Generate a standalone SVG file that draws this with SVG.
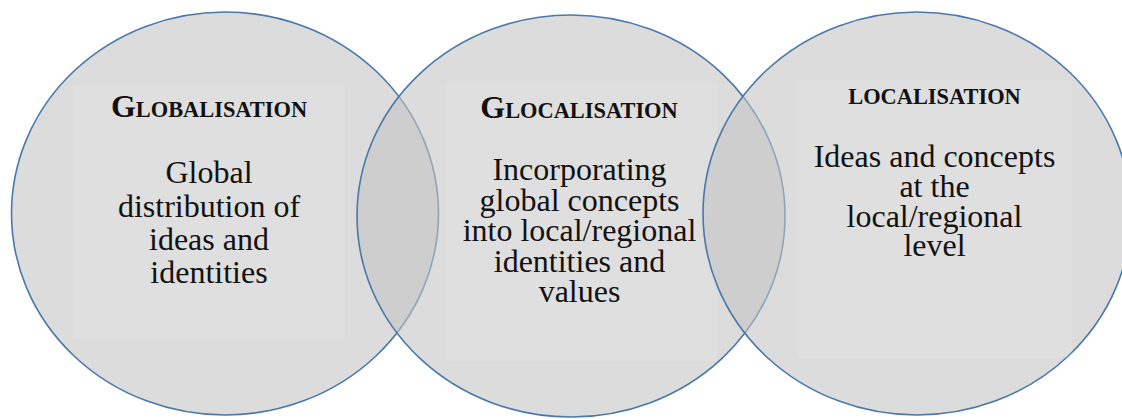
<svg xmlns="http://www.w3.org/2000/svg" width="1122" height="419" viewBox="0 0 1122 419">
  <style>
    .ring { fill: #c4c4c4; fill-opacity: 0.59; stroke: #4a78ab; stroke-width: 1.6; }
    .pane { fill: #ffffff; fill-opacity: 0.09; }
    .head { font-family: "Liberation Serif", "DejaVu Serif", serif; font-weight: 700; fill: #111; text-anchor: middle; }
    .big { font-size: 32px; }
    .small { font-size: 22.4px; }
    .desc { font-family: "Liberation Serif", "DejaVu Serif", serif; font-weight: 400; font-style: normal; font-size: 32px; fill: #111; text-anchor: middle; }
  </style>
  <rect width="1122" height="419" fill="#ffffff"/>

  <g id="globalisation">
    <ellipse class="ring" cx="225" cy="213.5" rx="213.5" ry="201.5"/>
    <rect class="pane" x="73" y="85" width="272" height="254"/>
    <text class="head" x="209" y="117"><tspan class="big">G</tspan><tspan class="small">LOBALISATION</tspan></text>
    <text class="desc" x="209" y="183">Global</text>
    <text class="desc" x="209" y="216.5">distribution of</text>
    <text class="desc" x="209" y="250">ideas and</text>
    <text class="desc" x="209" y="282.5">identities</text>
  </g>

  <g id="glocalisation">
    <ellipse class="ring" cx="571" cy="216" rx="214" ry="201"/>
    <rect class="pane" x="445" y="84" width="272" height="277"/>
    <text class="head" x="579" y="118"><tspan class="big">G</tspan><tspan class="small">LOCALISATION</tspan></text>
    <text class="desc" x="579.5" y="180">Incorporating</text>
    <text class="desc" x="579.5" y="210.5">global concepts</text>
    <text class="desc" x="579.5" y="241">into local/regional</text>
    <text class="desc" x="579.5" y="271.5">identities and</text>
    <text class="desc" x="579.5" y="302">values</text>
  </g>

  <g id="localisation">
    <ellipse class="ring" cx="917" cy="213.5" rx="214" ry="201.5"/>
    <rect class="pane" x="798" y="80" width="274" height="278"/>
    <text class="head small" x="934.5" y="104">LOCALISATION</text>
    <text class="desc" x="934.5" y="167">Ideas and concepts</text>
    <text class="desc" x="934.5" y="196.5">at the</text>
    <text class="desc" x="934.5" y="226.5">local/regional</text>
    <text class="desc" x="934.5" y="256">level</text>
  </g>

  <g id="connectors"/>
</svg>
